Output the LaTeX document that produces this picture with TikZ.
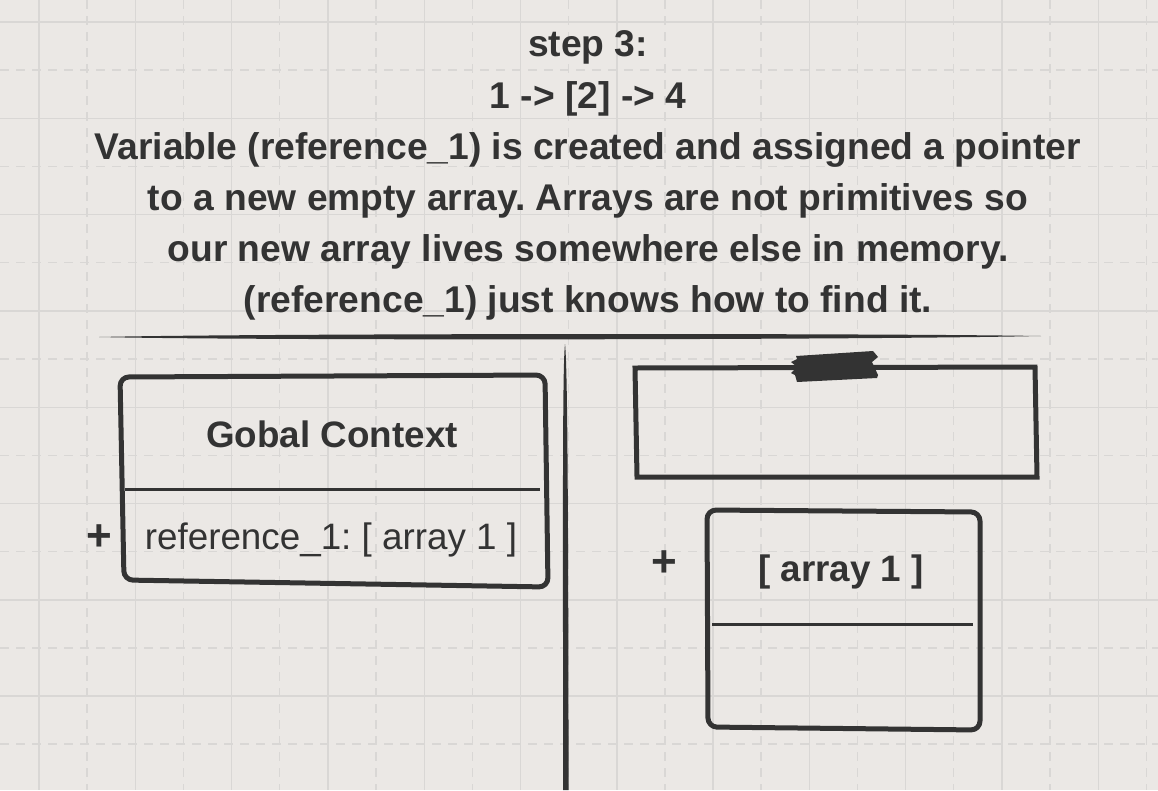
\documentclass[tikz,border=0pt]{standalone}
\usepackage{fontspec}
\setmainfont{Liberation Sans}
\frenchspacing
\definecolor{bg}{HTML}{EBE8E5}
\definecolor{gridc}{HTML}{D9D7D5}
\definecolor{ink}{HTML}{333333}
\tikzset{
  gridsolid/.style={draw=gridc, line width=1.4},
  griddash/.style={draw=gridc, line width=1.4, dash pattern=on 9 off 7},
  titletext/.style={font=\fontsize{37.2}{44}\selectfont\bfseries, text=ink, anchor=base, inner sep=0},
  boldtext/.style={font=\fontsize{36.8}{44}\selectfont\bfseries, text=ink, anchor=base, inner sep=0},
  plaintext/.style={font=\fontsize{36.8}{44}\selectfont, text=ink, anchor=base, inner sep=0},
  plussign/.style={font=\fontsize{44}{50}\selectfont\bfseries, text=ink, anchor=center, inner sep=0},
  sketch/.style={draw=ink, line width=5, rounded corners=9, line join=round},
  sepline/.style={draw=ink, line width=3},
}
\begin{document}
\begin{tikzpicture}[x=1pt,y=-1pt]
\fill[bg] (0,0) rectangle (1158,790);
\useasboundingbox (0,0) rectangle (1158,790);
% grid
\foreach \i in {0,...,11} {
  \draw[gridsolid] ({39+96.3*\i},0) -- ({39+96.3*\i},790);
  \draw[griddash] ({87+96.3*\i},0) -- ({87+96.3*\i},790);
}
\foreach \j in {0,...,8} {
  \draw[gridsolid] (0,{22+96.3*\j}) -- (1158,{22+96.3*\j});
  \draw[griddash] (0,{70+96.3*\j}) -- (1158,{70+96.3*\j});
}
% title
\node[titletext] (t1) at (588,56) {step 3:};
\node[titletext] (t2) at (588,108) {1 -> [2] -> 4};
\node[titletext] (t3) at (588,159) {Variable (reference\_1) is created and assigned a pointer};
\node[titletext] (t4) at (588,210) {to a new empty array. Arrays are not primitives so};
\node[titletext] (t5) at (588,261) {our new array lives somewhere else in memory.};
\node[titletext] (t6) at (588,312) {(reference\_1) just knows how to find it.};
% dividers
\coordinate (hL) at (99,337);
\coordinate (hR) at (1041,336);
\fill[ink] (hL) .. controls (250,333.5) and (850,333) .. (hR) .. controls (850,340) and (250,340.5) .. (hL) -- cycle;
\coordinate (vT) at (565,344);
\coordinate (vB) at (566,790);
\fill[ink] (vT) .. controls (562.5,365) and (562.8,500) .. (563.2,790) -- (568.6,790) .. controls (568.2,500) and (567.5,365) .. (vT) -- cycle;
% left box: Global context
\draw[sketch] (120,377) -- (545,375) -- (548,587) -- (124,580) -- cycle;
\coordinate (lsA) at (125,489);
\coordinate (lsB) at (540,489);
\draw[sepline] (lsA) -- (lsB);
\node[boldtext] (gc) at (332,447) {Gobal Context};
\node[plaintext] (ref) at (331,549) {reference\_1: [ array 1 ]};
\node[plussign] (plusL) at (99,538) {+};
% right top box
\draw[draw=ink, line width=5, line join=miter] (635,368) -- (1035,367) -- (1037,477) -- (637,477) -- cycle;
\fill[ink] (796,356) -- (873,351) -- (878,357) -- (872,362) -- (878,375) -- (877,378) -- (797,382) -- (795,375) -- (791,373) -- (797,367) -- (791,362) -- (797,359) -- cycle;
% right bottom box: array 1
\draw[sketch] (707,510) -- (980,512) -- (980,730) -- (708,727) -- cycle;
\coordinate (rsA) at (712,624);
\coordinate (rsB) at (973,624);
\draw[sepline] (rsA) -- (rsB);
\node[boldtext] (arr) at (841,581) {[ array 1 ]};
\node[plussign] (plusR) at (664,564) {+};
\end{tikzpicture}
\end{document}
